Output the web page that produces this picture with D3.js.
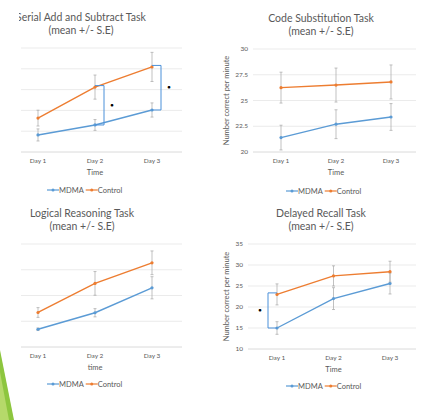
<!DOCTYPE html>
<html>
<head>
<meta charset="utf-8">
<script src="https://cdn.jsdelivr.net/npm/d3@7"></script>
<style>
  body { margin: 0; background: #fff; }
  svg { display: block; font-family: Lato, "Open Sans", sans-serif; }
</style>
</head>
<body>
<svg width="426" height="420"></svg>
<script>
const days = ['Day 1', 'Day 2', 'Day 3']
const seriesNames = ['MDMA', 'Control']

const serialMdma = [0.82, 1.30, 2.02]
const serialMdmaSe = [0.29, 0.26, 0.34]
const serialControl = [1.63, 3.12, 4.09]
const serialControlSe = [0.38, 0.58, 0.70]

const codeMdma = [21.4, 22.7, 23.4]
const codeMdmaSe = [1.2, 1.4, 1.3]
const codeControl = [26.25, 26.5, 26.8]
const codeControlSe = [1.5, 1.65, 1.65]

const logicMdma = [0.69, 1.33, 2.30]
const logicMdmaSe = [0.05, 0.16, 0.43]
const logicControl = [1.34, 2.47, 3.27]
const logicControlSe = [0.19, 0.46, 0.46]

const recallMdma = [15.0, 22.0, 25.6]
const recallMdmaSe = [1.5, 2.6, 2.5]
const recallControl = [23.0, 27.4, 28.4]
const recallControlSe = [2.5, 2.4, 2.5]

const codeTicks = [20, 22.5, 25, 27.5, 30]
const recallTicks = [10, 15, 20, 25, 30, 35]

const colors = { MDMA: '#5b9bd5', Control: '#ed7d31' }
const textColor = '#595959'
const svg = d3.select('svg')

// left edge clip, the top-left chart is cut off in the original
svg.append('defs').append('clipPath').attr('id', 'leftClip')
  .append('rect').attr('x', 19).attr('y', 0).attr('width', 400).attr('height', 420)

const panels = [
  {
    title: 'Serial Add and Subtract Task', cx: 81, titleY: 21,
    mdma: serialMdma, mdmaSe: serialMdmaSe, control: serialControl, controlSe: serialControlSe,
    domain: [0, 5], ticks: [0, 1, 2, 3, 4, 5], showLabels: false,
    grid: [21, 182], days: [38, 152], yRange: [152, 48],
    xTitle: 'Time', legendY: 190, legendX: 47, clip: true,
    brackets: [{ day: 1, side: 1 }, { day: 2, side: 1 }]
  },
  {
    title: 'Code Substitution Task', cx: 321, titleY: 22,
    mdma: codeMdma, mdmaSe: codeMdmaSe, control: codeControl, controlSe: codeControlSe,
    domain: [20, 30], ticks: codeTicks, showLabels: true,
    grid: [253, 416], days: [281, 391], yRange: [152, 49],
    xTitle: 'Time', legendY: 191, legendX: 286, yTitleX: 229,
    brackets: []
  },
  {
    title: 'Logical Reasoning Task', cx: 82, titleY: 217,
    mdma: logicMdma, mdmaSe: logicMdmaSe, control: logicControl, controlSe: logicControlSe,
    domain: [0, 4], ticks: [0, 1, 2, 3, 4], showLabels: false,
    grid: [21, 182], days: [38, 152], yRange: [347, 244],
    xTitle: 'time', legendY: 384, legendX: 47,
    brackets: []
  },
  {
    title: 'Delayed Recall Task', cx: 321, titleY: 217,
    mdma: recallMdma, mdmaSe: recallMdmaSe, control: recallControl, controlSe: recallControlSe,
    domain: [10, 35], ticks: recallTicks, showLabels: true,
    grid: [248, 416], days: [277, 390], yRange: [349, 244],
    xTitle: 'Time', legendY: 386, legendX: 286, yTitleX: 229,
    brackets: [{ day: 0, side: -1 }]
  }
]

panels.forEach(drawPanel)

function drawPanel(p) {
  const g = svg.append('g')
  if (p.clip) g.attr('clip-path', 'url(#leftClip)')

  const x = d3.scalePoint().domain(days).range(p.days)
  const y = d3.scaleLinear().domain(p.domain).range(p.yRange)

  g.append('text')
    .attr('x', p.cx).attr('y', p.titleY)
    .attr('text-anchor', 'middle').attr('fill', textColor)
    .attr('font-size', 10.5)
    .text(p.title)
  g.append('text')
    .attr('x', p.cx).attr('y', p.titleY + 13)
    .attr('text-anchor', 'middle').attr('fill', textColor)
    .attr('font-size', 10.5)
    .text('(mean +/- S.E)')

  // gridlines
  g.selectAll('.grid').data(p.ticks).join('line')
    .attr('x1', p.grid[0]).attr('x2', p.grid[1])
    .attr('y1', d => y(d)).attr('y2', d => y(d))
    .attr('stroke', d => d === p.domain[0] ? '#d0d0d0' : '#e6e6e6')
    .attr('stroke-width', 0.8)

  if (p.showLabels) {
    g.selectAll('.tick').data(p.ticks).join('text')
      .attr('x', p.grid[0] - 5).attr('y', d => y(d) + 2.2)
      .attr('text-anchor', 'end').attr('fill', textColor)
      .attr('font-size', 6.5)
      .text(d => d)
    const midY = (p.yRange[0] + p.yRange[1]) / 2
    g.append('text')
      .attr('transform', `translate(${p.yTitleX},${midY}) rotate(-90)`)
      .attr('text-anchor', 'middle').attr('fill', textColor)
      .attr('font-size', 7.5)
      .text('Number correct per minute')
  }

  const baseY = y(p.domain[0])
  g.selectAll('.day').data(days).join('text')
    .attr('x', d => x(d)).attr('y', baseY + 11)
    .attr('text-anchor', 'middle').attr('fill', textColor)
    .attr('font-size', 6.5)
    .text(d => d)
  g.append('text')
    .attr('x', x(days[1])).attr('y', baseY + 23)
    .attr('text-anchor', 'middle').attr('fill', textColor)
    .attr('font-size', 7.5)
    .text(p.xTitle)

  const series = [
    { name: 'MDMA', values: p.mdma, se: p.mdmaSe },
    { name: 'Control', values: p.control, se: p.controlSe }
  ]

  // error bars
  series.forEach(s => {
    const bars = g.append('g').attr('stroke', '#a6a6a6').attr('stroke-width', 0.7)
    s.values.forEach((v, i) => {
      const cx = x(days[i])
      bars.append('line').attr('x1', cx).attr('x2', cx)
        .attr('y1', y(v - s.se[i])).attr('y2', y(v + s.se[i]))
      ;[v - s.se[i], v + s.se[i]].forEach(e => {
        bars.append('line').attr('x1', cx - 1.5).attr('x2', cx + 1.5)
          .attr('y1', y(e)).attr('y2', y(e))
      })
    })
  })

  const line = d3.line().x((d, i) => x(days[i])).y(d => y(d))
  series.forEach(s => {
    g.append('path')
      .attr('d', line(s.values))
      .attr('fill', 'none')
      .attr('stroke', colors[s.name])
      .attr('stroke-width', 1.4)
    g.selectAll(null).data(s.values).join('circle')
      .attr('cx', (d, i) => x(days[i])).attr('cy', d => y(d))
      .attr('r', 1.6).attr('fill', colors[s.name])
  })

  // significance brackets
  p.brackets.forEach(b => {
    const cx = x(days[b.day])
    const top = y(p.control[b.day])
    const bottom = y(p.mdma[b.day])
    const bx = cx + b.side * 9
    g.append('path')
      .attr('d', `M${cx},${top - 1.5}H${bx}V${bottom}H${cx}`)
      .attr('fill', 'none').attr('stroke', '#4a90d9').attr('stroke-width', 1)
    g.append('text')
      .attr('x', bx + b.side * 8).attr('y', (top + bottom) / 2 + 1)
      .attr('text-anchor', 'middle').attr('font-size', 6).attr('font-weight', 'bold')
      .attr('fill', '#000')
      .text('•')
  })

  // legend
  let lx = p.legendX
  seriesNames.forEach(name => {
    g.append('line').attr('x1', lx).attr('x2', lx + 12)
      .attr('y1', p.legendY).attr('y2', p.legendY)
      .attr('stroke', colors[name]).attr('stroke-width', 1.2)
    g.append('circle').attr('cx', lx + 6).attr('cy', p.legendY).attr('r', 1.5)
      .attr('fill', colors[name])
    const t = g.append('text').attr('x', lx + 12).attr('y', p.legendY + 2.6)
      .attr('fill', textColor).attr('font-size', 7.5)
      .text(name)
    lx += 12 + t.node().getComputedTextLength() + 2
  })
}

// green slide accent bottom-left
svg.append('polygon')
  .attr('points', '0,350 14,420 0,420')
  .attr('fill', '#8dc63f')
svg.append('polygon')
  .attr('points', '0,372 9,420 0,420')
  .attr('fill', '#b5d96a')
</script>
</body>
</html>
